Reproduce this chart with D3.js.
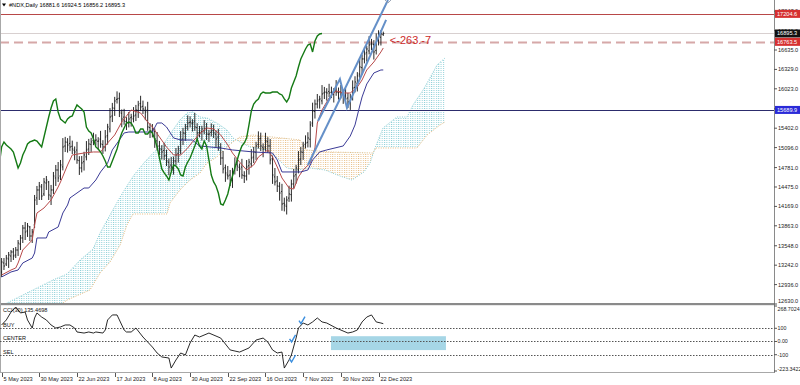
<!DOCTYPE html>
<html><head><meta charset="utf-8">
<script src="https://cdn.jsdelivr.net/npm/d3@7/dist/d3.min.js"></script>
<style>
html,body{margin:0;padding:0;background:#fff;}
svg{display:block;}
text{font-family:"Liberation Sans",Arial,sans-serif;}
</style></head><body>
<svg id="chart" width="800" height="385"></svg>
<script>
// ---------------- DATA ----------------
const symbolTitle = "#NDX,Daily  16881.6 16924.5 16856.2 16895.3";
const dateLabels = ["5 May 2023","30 May 2023","22 Jun 2023","17 Jul 2023","8 Aug 2023","30 Aug 2023","22 Sep 2023","16 Oct 2023","7 Nov 2023","30 Nov 2023","22 Dec 2023"];
const dateTickIdx = [0,16,32,48,64,80,96,112,128,144,160];
const priceTicks = [12630.0,12936.0,13242.0,13548.0,13863.0,14169.0,14475.0,14781.0,15096.0,15402.0,15708.0,16023.0,16329.0,16635.0,16941.0,17247.0];
const cciTicks = [268.7024,100,0,-100,-223.3422];
const cciTickLabels = ["268.7024","100","0.00","-100","-223.3422"];
const cciLevels = [100,0,-100];
const cciLevelNames = ["BUY","CENTER","SEL"];
const cciTitle = "CCI(30) 135.4698";

const open = [13134,13276,13261,13340,13387,13450,13403,13481,13576,13671,13828,13781,13844,13702,13876,14302,14428,14475,14365,14538,14554,14333,14428,14617,14743,14648,
14792,15121,15180,15162,15116,15054,15057,14891,14775,14874,
14950,15074,15148,15210,15210,15196,15230,15143,15106,15283,
15391,15594,15716,15856,15873,15638,15577,15506,15484,15567,
15549,15610,15684,15793,15747,15685,15688,15411,15358,15347,
15202,15121,15069,15052,14974,14865,14820,14780,14885,15000,
15044,15231,15322,15430,15494,15480,15514,15411,15327,15347,
15360,15405,15306,15336,15368,15307,15262,15096,14932,14779,
14666,14663,14580,14737,14832,14786,14789,14654,14648,14810,
14839,14947,15022,15147,15242,15102,15104,15190,15122,14921,
14634,14569,14486,14405,14217,14171,14300,14355,14522,14668,
14745,14916,15022,15147,15179,15228,15483,15664,15784,15851,
15833,15957,15968,15982,15967,15937,16003,15963,15973,15962,
15896,15878,15810,15904,16046,16111,16256,16357,16494,16592,
16621,16729,16725,16629,16787,16836,16881.6];
const high = [13355,13355,13403,13450,13481,13513,13529,13639,13718,13876,13923,13907,13860,13813,14349,14491,14554,14522,14617,14648,14570,14507,14712,14822,14869,14901,
15246,15265,15245,15282,15206,15114,15187,14961,14964,15030,
15199,15233,15250,15330,15306,15260,15360,15213,15373,15471,
15719,15801,15896,15983,15963,15698,15707,15576,15657,15629,
15735,15769,15833,15913,15837,15745,15818,15481,15468,15397,
15342,15201,15134,15172,15064,14925,14950,14955,15090,15124,
15356,15407,15470,15604,15590,15544,15644,15481,15437,15440,
15530,15485,15376,15478,15458,15367,15392,15166,15042,14829,
14806,14743,14777,14942,14922,14846,14919,14724,14900,14919,
15072,15107,15187,15352,15332,15162,15330,15260,15232,14971,
14774,14649,14551,14525,14307,14330,14495,14592,14758,14825,
15041,15107,15187,15289,15338,15513,15804,15854,15941,15913,
16082,16053,16033,16102,16057,16033,16160,16043,16083,16012,
16036,15958,15944,16156,16221,16286,16497,16564,16682,16701,
16854,16810,16790,16897,16946,16948,16924.5];
const low = [13056,13166,13229,13198,13292,13324,13355,13387,13481,13592,13639,13687,13623,13592,13828,14191,14270,14270,14333,14428,14270,14191,14365,14491,14554,14585,
14737,15026,15017,15041,14994,14897,14841,14665,14705,14734,
14895,14979,15028,15135,15130,15066,15093,14996,15036,15143,
15336,15499,15596,15791,15578,15417,15456,15374,15414,15427,
15494,15515,15564,15672,15625,15528,15361,15248,15257,15092,
15051,14979,14907,14899,14805,14660,14730,14670,14815,14860,
14989,15136,15202,15365,15414,15350,15361,15217,15257,15207,
15305,15216,15186,15271,15247,15102,15046,14822,14689,14556,
14593,14490,14460,14672,14726,14629,14604,14538,14578,14670,
14784,14852,14902,15082,15042,14944,15044,15012,14831,14524,
14499,14396,14260,14100,14090,14041,14240,14245,14452,14528,
14690,14821,14902,15082,15099,15098,15423,15554,15714,15711,
15778,15862,15837,15892,15877,15807,15913,15853,15872,15786,
15808,15720,15690,15839,15966,15981,16196,16247,16424,16452,
16566,16634,16484,16564,16707,16706,16856.2];
const close = [13292,13229,13355,13403,13450,13387,13481,13592,13671,13828,13765,13860,13702,13765,14270,14428,14491,14333,14554,14585,14349,14428,14648,14743,14617,14822,
15106,15185,15137,15106,15074,15027,14901,14775,14854,14980,
15059,15153,15185,15200,15216,15200,15153,15106,15263,15421,
15579,15721,15831,15863,15658,15547,15516,15484,15547,15579,
15595,15689,15768,15737,15705,15658,15421,15358,15327,15232,
15106,15074,15027,14964,14885,14790,14790,14885,14980,15074,
15216,15327,15405,15484,15500,15484,15421,15327,15327,15390,
15390,15311,15311,15358,15327,15232,15106,14932,14759,14696,
14648,14585,14712,14822,14806,14759,14664,14648,14790,14869,
14932,15027,15122,15232,15122,15074,15200,15122,14901,14664,
14554,14491,14380,14207,14191,14270,14365,14522,14648,14775,
14901,15027,15122,15169,15248,15453,15674,15784,15831,15863,
15942,15973,15957,15957,15957,15973,15973,15973,15942,15926,
15863,15815,15879,16036,16131,16226,16367,16494,16572,16651,
16714,16730,16604,16777,16856,16888,16895.3];
const chikouShift = 26;

// Ichimoku lines: [bar index, price]
const tenkan = [[0,13087],[4,13166],[6,13198],[7,13276],[9,13482],[11,13560],[13,13639],[14,13876],[15,14065],[18,14144],[21,14270],[24,14475],[25,14554],[28,14822],[30,14980],[35,15011],[39,15027],[42,15027],[45,15169],[48,15295],[51,15500],[55,15689],[59,15642],[62,15500],[64,15421],[67,15264],[70,15106],[73,14980],[76,14980],[79,15090],[81,15185],[84,15311],[87,15406],[90,15390],[93,15295],[96,15138],[98,15011],[101,14869],[104,14743],[107,14822],[109,14948],[113,15059],[115,14948],[117,14790],[119,14617],[122,14459],[124,14443],[126,14633],[128,14743],[131,14854],[133,15090],[134,15484],[136,15689],[139,15879],[142,15990],[145,15957],[148,15957],[151,16052],[153,16162],[155,16320],[158,16446],[161,16604],[162,16667]];
const kijun = [[0,13056],[4,13135],[7,13166],[9,13277],[13,13355],[14,13434],[15,13671],[19,13671],[20,13766],[24,13844],[26,14065],[28,14191],[29,14302],[32,14380],[35,14459],[37,14459],[40,14585],[42,14712],[45,14854],[47,15059],[50,15216],[52,15327],[54,15342],[64,15342],[66,15484],[68,15484],[70,15421],[73,15248],[76,15216],[81,15216],[84,15122],[93,15090],[98,15059],[107,15027],[115,15011],[117,14901],[119,14712],[127,14712],[130,14743],[132,14901],[135,15027],[138,15059],[145,15122],[148,15279],[150,15453],[152,15752],[153,15894],[155,16099],[158,16273],[161,16320],[162,16320]];
const spanA = [[-1,12583],[4.8,12693],[13.3,12851],[21.8,13008],[27.8,13103],[33.3,13324],[38.8,13497],[41.8,13750],[46,14034],[50.3,14317],[53.7,14522],[56.2,14664],[60.4,14854],[64.7,15027],[68.5,15137],[72.7,15374],[75.7,15532],[78.7,15642],[81.2,15658],[84.2,15579],[87.2,15563],[91.4,15484],[95.7,15374],[98.2,15248],[101.2,15185],[105.4,15106],[112.6,15059],[116.9,14932],[121.1,14775],[125.4,14743],[130.9,14775],[137.3,14743],[143.6,14648],[148.7,14585],[153.8,14712],[156.4,14854],[158.5,15090],[161.9,15406],[167.8,15579],[172.1,15579],[174.6,15768],[178.9,16005],[181.8,16194],[184.8,16399],[188.2,16509]];
const spanB = [[-1,12141],[16.3,12378],[27.8,12693],[37.5,12851],[41.8,13119],[46,13292],[50.3,13560],[53.2,13876],[55.8,14049],[70.2,14049],[71.5,14223],[75.7,14428],[80,14585],[84.2,14696],[87.2,14854],[91.4,14948],[95.7,15106],[98.2,15185],[101.2,15264],[106.7,15295],[126.7,15216],[129.2,15059],[139.4,15027],[157.6,15011],[158.9,15090],[176.3,15090],[180.6,15295],[186.1,15453],[188.2,15500]];

// horizontal levels
const levelPrices = [17204.6, 16895.3, 16763.5, 15689.9];
const levelLabels = ["17204.6","16895.3","16763.5","15689.9"];
// trend lines [bar index, price]
const trendLong = [[130,14822],[164,17424]];
const trendZig = [[134.3,15516],[143.6,16178],[146.6,15721],[163.2,17109]];
const annotation = {text:"<-263.-7", idx:164.8, price:16730};

// CCI(30) [bar index, value]
const cci = [[0,125],[2,163],[4,223],[6,261],[8,216],[10,223],[11,163],[13,102],[14,178],[15,216],[17,185],[19,163],[21,125],[23,102],[25,110],[27,125],[29,125],[31,102],[32,72],[35,64],[37,72],[39,64],[40,72],[43,64],[44,87],[45,163],[47,201],[49,201],[50,163],[52,87],[53,72],[55,72],[57,102],[60,34],[62,-4],[64,-42],[66,-87],[68,-117],[71,-125],[72,-201],[74,-140],[76,-87],[78,-102],[80,-11],[82,49],[84,34],[88,64],[93,26],[97,-64],[101,-80],[105,-49],[108,11],[111,26],[113,-4],[115,-64],[117,-87],[119,-80],[120,-201],[122,-140],[123,-102],[125,26],[126,102],[128,140],[130,125],[132,148],[134,178],[136,148],[138,140],[142,102],[147,64],[149,72],[151,87],[153,148],[155,185],[157,201],[159,148],[161,140],[162,135]];
const cciChecks = [[127.5,150],[123.5,12],[123.5,-140]];
const cciZone = {from:139.8, to:188.6, top:40, bottom:-65};

// ---------------- DRAW ----------------
const svg = d3.select("#chart");
const PR = 774;
const x = d3.scaleLinear().domain([0,160]).range([1.6,378.56]);
const y = d3.scaleLinear().domain([12630,16635]).range([304,50]);
const yc = d3.scaleLinear().domain([-223.3422,268.7024]).range([371,306]);
const FS = 5.6;

const defs = svg.append("defs");
defs.append("clipPath").attr("id","mainClip").append("rect").attr("x",0).attr("y",0).attr("width",PR).attr("height",303);
defs.append("clipPath").attr("id","cciClip").append("rect").attr("x",0).attr("y",305).attr("width",PR).attr("height",67);
function pat(id,color){
  const p = defs.append("pattern").attr("id",id).attr("patternUnits","userSpaceOnUse").attr("width",2.356).attr("height",2);
  p.append("rect").attr("width",1).attr("height",1).attr("fill",color);
}
pat("dotBlue","#8fd0d8");
pat("dotTan","#e8c08a");

const ptsA = spanA.map(d=>[x(d[0]),y(d[1])]);
const ptsB = spanB.map(d=>[x(d[0]),y(d[1])]);
const toPath = pts => pts.map(p=>p[0].toFixed(2)+","+p[1].toFixed(2)).join("L");
const cloudPoly = "M"+toPath(ptsA)+"L"+toPath(ptsB.slice().reverse())+"Z";
const bx0 = ptsB[0][0], bx1 = ptsB[ptsB.length-1][0];
defs.append("clipPath").attr("id","aboveB").append("path")
  .attr("d","M"+toPath(ptsB)+"L"+bx1+",-50L"+bx0+",-50Z");
defs.append("clipPath").attr("id","belowB").append("path")
  .attr("d","M"+toPath(ptsB)+"L"+bx1+",450L"+bx0+",450Z");

const main = svg.append("g").attr("clip-path","url(#mainClip)");

// cloud
main.append("g").attr("clip-path","url(#aboveB)").append("path").attr("d",cloudPoly).attr("fill","url(#dotBlue)");
main.append("g").attr("clip-path","url(#belowB)").append("path").attr("d",cloudPoly).attr("fill","url(#dotTan)");
const lineGen = d3.line().x(d=>x(d[0])).y(d=>y(d[1]));
main.append("path").attr("d",lineGen(spanA)).attr("fill","none").attr("stroke","#86ccd4").attr("stroke-width",1).attr("stroke-dasharray","1,1.4");
main.append("path").attr("d",lineGen(spanB)).attr("fill","none").attr("stroke","#e4bb80").attr("stroke-width",1).attr("stroke-dasharray","1,1.4");

// level lines
const levelStyles = [
  {stroke:"#b84848", w:1, dash:null},
  {stroke:"#d8d0d0", w:1, dash:null},
  {stroke:"#d6a8a8", w:2, dash:"9,5"},
  {stroke:"#2c2c6c", w:1, dash:null}];
levelPrices.forEach((p,i)=>{
  const s = levelStyles[i];
  const l = main.append("line").attr("x1",0).attr("x2",PR).attr("y1",Math.round(y(p))+0.5).attr("y2",Math.round(y(p))+0.5)
    .attr("stroke",s.stroke).attr("stroke-width",s.w);
  if(s.dash) l.attr("stroke-dasharray",s.dash);
});

// price bars
const bars = main.append("g").attr("stroke","#111").attr("stroke-width",0.9);
close.forEach((c,i)=>{
  const xi = x(i);
  bars.append("line").attr("x1",xi).attr("x2",xi).attr("y1",y(high[i])).attr("y2",y(low[i]));
  bars.append("line").attr("x1",xi-1).attr("x2",xi).attr("y1",y(open[i])).attr("y2",y(open[i]));
  bars.append("line").attr("x1",xi).attr("x2",xi+1).attr("y1",y(c)).attr("y2",y(c));
});

// tenkan / kijun
main.append("path").attr("d",lineGen(tenkan)).attr("fill","none").attr("stroke","#b84a4a").attr("stroke-width",1);
main.append("path").attr("d",lineGen(kijun)).attr("fill","none").attr("stroke","#3a3a96").attr("stroke-width",1);
// chikou: closes drawn 26 bars back
const chik = close.map((c,i)=>[i-chikouShift,c]).filter(d=>d[0]>=-1);
main.append("path").attr("d",lineGen(chik)).attr("fill","none").attr("stroke","#157a15").attr("stroke-width",1.4);

// trend lines
main.append("path").attr("d",lineGen(trendLong)).attr("fill","none").attr("stroke","#6590c8").attr("stroke-width",2);
main.append("path").attr("d",lineGen(trendZig)).attr("fill","none").attr("stroke","#6590c8").attr("stroke-width",2);
const tx = x(trendLong[1][0]);
main.append("path").attr("d",`M${tx-3},0L${tx},3L${tx+3},0`).attr("fill","none").attr("stroke","#9aa4b4").attr("stroke-width",1);

// annotation
main.append("text").attr("x",x(annotation.idx)).attr("y",y(annotation.price)).attr("font-size",11).attr("fill","#cc2a2a").text(annotation.text);

// title
svg.append("path").attr("d","M2,3.5L6,3.5L4,6.5Z").attr("fill","#000");
svg.append("text").attr("x",9).attr("y",7).attr("font-size",FS).attr("fill","#000").text(symbolTitle);

// window separators / borders
svg.append("rect").attr("x",0).attr("y",303).attr("width",PR).attr("height",2.2).attr("fill","#8a8a8a");
svg.append("line").attr("x1",0.5).attr("x2",0.5).attr("y1",0).attr("y2",373).attr("stroke","#a8a8a8");
svg.append("line").attr("x1",0).attr("x2",PR).attr("y1",372.5).attr("y2",372.5).attr("stroke","#a8a8a8");
svg.append("line").attr("x1",PR+0.5).attr("x2",PR+0.5).attr("y1",0).attr("y2",373).attr("stroke","#8a8a8a");

// price axis
const axG = svg.append("g");
priceTicks.forEach((p,i)=>{
  const yy = y(p);
  const ty = i===0 ? yy-1.5 : yy+2;
  axG.append("line").attr("x1",PR).attr("x2",PR+3).attr("y1",yy).attr("y2",yy).attr("stroke","#555");
  axG.append("text").attr("x",PR+4).attr("y",ty).attr("font-size",FS).attr("fill","#222").text(p.toFixed(1));
});
const boxColors = ["#d63030","#111111","#d63030","#2a2ad8"];
levelPrices.forEach((p,i)=>{
  const yy = y(p);
  axG.append("rect").attr("x",PR+1).attr("y",yy-4).attr("width",800-PR-1).attr("height",8).attr("fill",boxColors[i]);
  axG.append("text").attr("x",PR+3).attr("y",yy+2).attr("font-size",FS).attr("fill","#fff").text(levelLabels[i]);
});

// CCI window
const cg = svg.append("g").attr("clip-path","url(#cciClip)");
cg.append("rect").attr("x",x(cciZone.from)).attr("y",yc(cciZone.top)).attr("width",x(cciZone.to)-x(cciZone.from)).attr("height",yc(cciZone.bottom)-yc(cciZone.top)).attr("fill","#a6d6e6");
cciLevels.forEach((v,i)=>{
  const yy = Math.round(yc(v))+0.5;
  cg.append("line").attr("x1",0).attr("x2",PR).attr("y1",yy).attr("y2",yy).attr("stroke","#555").attr("stroke-dasharray","1.5,1.5");
  cg.append("text").attr("x",3).attr("y",yy-2).attr("font-size",FS).attr("fill","#111").text(cciLevelNames[i]);
});
const lineC = d3.line().x(d=>x(d[0])).y(d=>yc(d[1]));
cg.append("path").attr("d",lineC(cci)).attr("fill","none").attr("stroke","#111").attr("stroke-width",0.9);
cciChecks.forEach(d=>{
  const cx = x(d[0]), cy = yc(d[1]);
  cg.append("path").attr("d",`M${cx-3},${cy-1}L${cx-1},${cy+2}L${cx+3},${cy-5}`).attr("fill","none").attr("stroke","#3a8ede").attr("stroke-width",1.4);
});
svg.append("text").attr("x",3).attr("y",312).attr("font-size",FS).attr("fill","#111").text(cciTitle);
cciTicks.forEach((v,i)=>{
  const yy = yc(v);
  const ty = i===0 ? yy+4.5 : (i===cciTicks.length-1 ? yy : yy+2);
  svg.append("line").attr("x1",PR).attr("x2",PR+3).attr("y1",yy).attr("y2",yy).attr("stroke","#555");
  svg.append("text").attr("x",PR+3.5).attr("y",ty).attr("font-size",5.3).attr("fill","#222").text(cciTickLabels[i]);
});

// date axis
dateTickIdx.forEach((idx,i)=>{
  const xx = Math.round(x(idx))+0.5;
  svg.append("line").attr("x1",xx).attr("x2",xx).attr("y1",373).attr("y2",377).attr("stroke","#555");
  svg.append("text").attr("x",xx+1).attr("y",381).attr("font-size",FS).attr("fill","#222").text(dateLabels[i]);
});
</script>
</body></html>
